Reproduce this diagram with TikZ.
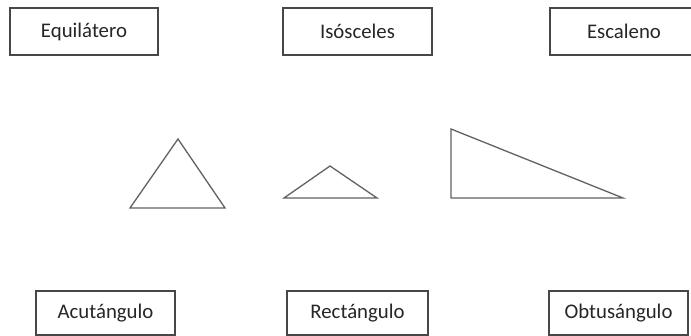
\documentclass[tikz,border=0pt]{standalone}
\usepackage{fontspec}
\setmainfont{Carlito}
\begin{document}
\begin{tikzpicture}[x=1pt,y=-1pt,
  labelbox/.style={draw=black!72,line width=1.4pt,fill=white,inner sep=0pt,
    font=\fontsize{20.8}{24}\selectfont,text=black!85},
  tri/.style={draw=black!62,line width=1.3pt,line join=miter}]
\useasboundingbox (0,0) rectangle (691,336);
\clip (0,0) rectangle (691,336);
\fill[white] (0,0) rectangle (691,336);
% top boxes
\node[labelbox,minimum width=148pt,minimum height=47pt] (equi) at (84,31.5) {Equilátero};
\node[labelbox,minimum width=149pt,minimum height=47pt] (isos) at (357.5,31.5) {Isósceles};
\node[labelbox,minimum width=148pt,minimum height=47pt] (esca) at (624,31.5) {Escaleno};
% bottom boxes
\node[labelbox,minimum width=139pt,minimum height=44pt] (acut) at (105.5,313) {Acutángulo};
\node[labelbox,minimum width=141pt,minimum height=44pt] (rect) at (357.5,313) {Rectángulo};
\node[labelbox,minimum width=139pt,minimum height=44pt] (obtu) at (618.5,313) {Obtusángulo};
% triangles
\coordinate (a1) at (178,139);
\coordinate (a2) at (130,208);
\coordinate (a3) at (225,208);
\draw[tri] (a1) -- (a2) -- (a3) -- cycle;
\coordinate (b1) at (330,166);
\coordinate (b2) at (284,198);
\coordinate (b3) at (377,198);
\draw[tri] (b1) -- (b2) -- (b3) -- cycle;
\coordinate (c1) at (451,129);
\coordinate (c2) at (451,198);
\coordinate (c3) at (623,198);
\draw[tri] (c1) -- (c2) -- (c3) -- cycle;
\end{tikzpicture}
\end{document}
